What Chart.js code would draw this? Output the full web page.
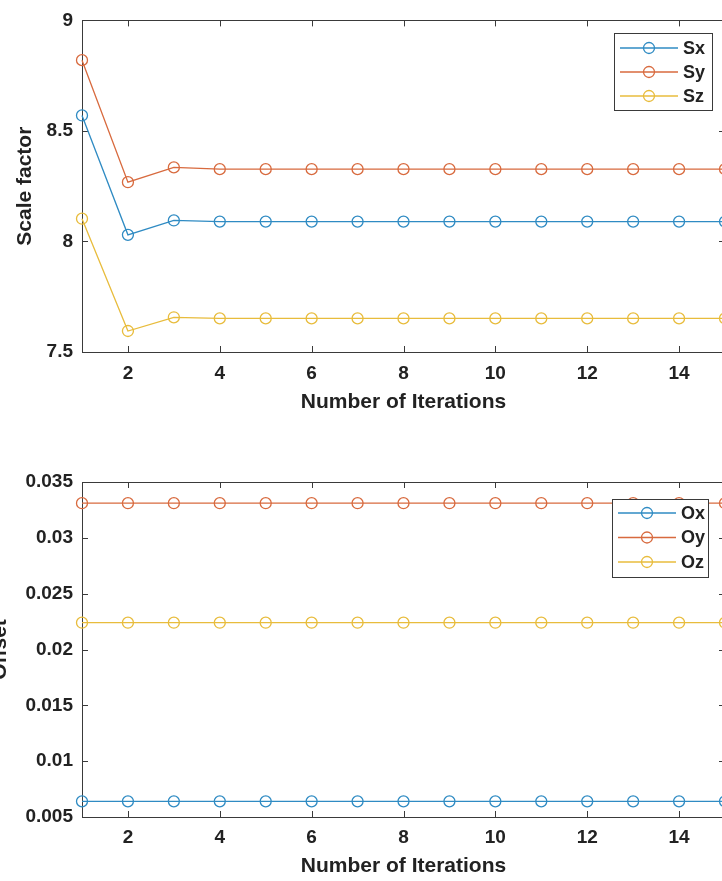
<!DOCTYPE html>
<html>
<head>
<meta charset="utf-8">
<script src="https://cdn.jsdelivr.net/npm/chart.js@4/dist/chart.umd.min.js"></script>
<style>
  html, body { margin: 0; padding: 0; background: #fff; overflow: hidden; width: 722px; height: 881px; }
  canvas { display: block; }
</style>
</head>
<body>
<canvas id="scaleChart" width="740" height="440"></canvas>
<canvas id="offsetChart" width="740" height="441"></canvas>
<script>
// Iteration index shared by both panels
const iterations = [1, 2, 3, 4, 5, 6, 7, 8, 9, 10, 11, 12, 13, 14, 15];
const xTicks = [2, 4, 6, 8, 10, 12, 14];

// Scale factor estimates per iteration
const sx = [8.57, 8.03, 8.095, 8.09, 8.09, 8.09, 8.09, 8.09, 8.09, 8.09, 8.09, 8.09, 8.09, 8.09, 8.09];
const sy = [8.82, 8.268, 8.335, 8.327, 8.327, 8.327, 8.327, 8.327, 8.327, 8.327, 8.327, 8.327, 8.327, 8.327, 8.327];
const sz = [8.103, 7.595, 7.657, 7.652, 7.652, 7.652, 7.652, 7.652, 7.652, 7.652, 7.652, 7.652, 7.652, 7.652, 7.652];
const scaleTicks = [7.5, 8, 8.5, 9];

// Offset estimates per iteration
const ox = [0.0064, 0.0064, 0.0064, 0.0064, 0.0064, 0.0064, 0.0064, 0.0064, 0.0064, 0.0064, 0.0064, 0.0064, 0.0064, 0.0064, 0.0064];
const oy = [0.0331, 0.0331, 0.0331, 0.0331, 0.0331, 0.0331, 0.0331, 0.0331, 0.0331, 0.0331, 0.0331, 0.0331, 0.0331, 0.0331, 0.0331];
const oz = [0.0224, 0.0224, 0.0224, 0.0224, 0.0224, 0.0224, 0.0224, 0.0224, 0.0224, 0.0224, 0.0224, 0.0224, 0.0224, 0.0224, 0.0224];
const offsetTicks = [0.005, 0.01, 0.015, 0.02, 0.025, 0.03, 0.035];

const BLUE = '#2f8bc3';
const ORANGE = '#d86a3e';
const YELLOW = '#e8bc3c';
const AXIS = '#3a3a3a';
const TEXT = '#222';
const FONT = '"Liberation Sans", Arial, Helvetica, sans-serif';

Chart.defaults.font.family = FONT;
Chart.defaults.color = TEXT;

// Boxed axes with inward tick marks on all four sides
const boxAxes = {
  id: 'boxAxes',
  beforeDatasetsDraw(chart) {
    const { ctx, chartArea: a, scales } = chart;
    const len = 6;
    ctx.save();
    ctx.strokeStyle = AXIS;
    ctx.lineWidth = 1;
    ctx.beginPath();
    ctx.rect(Math.round(a.left) + 0.5, Math.round(a.top) + 0.5, Math.round(a.right - a.left), Math.round(a.bottom - a.top));
    scales.x.ticks.forEach(t => {
      const px = Math.round(scales.x.getPixelForValue(t.value)) + 0.5;
      ctx.moveTo(px, a.bottom); ctx.lineTo(px, a.bottom - len);
      ctx.moveTo(px, a.top); ctx.lineTo(px, a.top + len);
    });
    scales.y.ticks.forEach(t => {
      const py = Math.round(scales.y.getPixelForValue(t.value)) + 0.5;
      ctx.moveTo(a.left, py); ctx.lineTo(a.left + len, py);
      ctx.moveTo(a.right, py); ctx.lineTo(a.right - len, py);
    });
    ctx.stroke();
    ctx.restore();
  }
};

// Legend box drawn inside the plot area
const boxLegend = {
  id: 'boxLegend',
  afterDraw(chart, args, o) {
    const ctx = chart.ctx;
    ctx.save();
    ctx.fillStyle = '#fff';
    ctx.fillRect(o.x, o.y, o.w, o.h);
    ctx.strokeStyle = AXIS;
    ctx.lineWidth = 1;
    ctx.strokeRect(o.x + 0.5, o.y + 0.5, o.w, o.h);
    chart.data.datasets.forEach((ds, i) => {
      const cy = o.y + o.first + i * o.row;
      const x0 = o.x + 6, x1 = x0 + o.lineLen;
      ctx.strokeStyle = ds.borderColor;
      ctx.lineWidth = 1.3;
      ctx.beginPath();
      ctx.moveTo(x0, cy); ctx.lineTo(x1, cy);
      ctx.stroke();
      ctx.beginPath();
      ctx.arc((x0 + x1) / 2, cy, 5.5, 0, Math.PI * 2);
      ctx.stroke();
      ctx.fillStyle = TEXT;
      ctx.font = 'bold 18px ' + FONT;
      ctx.textBaseline = 'middle';
      ctx.textAlign = 'left';
      ctx.fillText(ds.label, x1 + 5, cy + 1);
    });
    ctx.restore();
  }
};

function series(label, values, color) {
  return {
    label,
    data: iterations.map((it, i) => ({ x: it, y: values[i] })),
    borderColor: color,
    backgroundColor: 'transparent',
    pointBackgroundColor: 'transparent',
    pointBorderColor: color,
    pointRadius: 5.5,
    pointBorderWidth: 1.3,
    borderWidth: 1.3,
    tension: 0,
    clip: false
  };
}

function buildChart(id, datasets, yTicks, yMin, yMax, yTitle, layout) {
  return new Chart(document.getElementById(id), {
    type: 'line',
    data: { datasets },
    options: {
      responsive: false,
      animation: false,
      devicePixelRatio: 1,
      layout: { padding: { top: layout.top, right: 15, bottom: 0, left: 0 } },
      plugins: {
        legend: { display: false },
        tooltip: { enabled: false },
        boxLegend: layout.legend
      },
      scales: {
        x: {
          type: 'linear',
          min: 1,
          max: 15,
          grid: { display: false, drawTicks: false },
          border: { display: false },
          afterBuildTicks: s => { s.ticks = xTicks.map(v => ({ value: v })); },
          afterFit: s => { s.height = layout.xHeight; },
          ticks: {
            padding: layout.xTickPad,
            color: TEXT,
            font: { size: 19, weight: 'bold' },
            maxRotation: 0,
            callback: v => String(v)
          },
          title: {
            display: true,
            text: 'Number of Iterations',
            color: TEXT,
            font: { size: 21, weight: 'bold' },
            padding: { top: 0, bottom: layout.xTitlePad }
          }
        },
        y: {
          type: 'linear',
          min: yMin,
          max: yMax,
          grid: { display: false, drawTicks: false },
          border: { display: false },
          afterBuildTicks: s => { s.ticks = yTicks.map(v => ({ value: v })); },
          afterFit: s => { s.width = 82; },
          ticks: {
            padding: 9,
            color: TEXT,
            font: { size: 19, weight: 'bold' },
            callback: v => String(+v.toFixed(4))
          },
          title: {
            display: true,
            text: yTitle,
            color: TEXT,
            font: { size: 21, weight: 'bold' },
            padding: { top: layout.yTitlePad, bottom: 0 }
          }
        }
      }
    },
    plugins: [boxAxes, boxLegend]
  });
}

buildChart('scaleChart',
  [series('Sx', sx, BLUE), series('Sy', sy, ORANGE), series('Sz', sz, YELLOW)],
  scaleTicks, 7.5, 9, 'Scale factor',
  {
    top: 16, xHeight: 88, xTickPad: 10, xTitlePad: 25, yTitlePad: 13,
    legend: { x: 614, y: 33, w: 98, h: 77, first: 15, row: 24, lineLen: 58 }
  });

buildChart('offsetChart',
  [series('Ox', ox, BLUE), series('Oy', oy, ORANGE), series('Oz', oz, YELLOW)],
  offsetTicks, 0.005, 0.035, 'Offset',
  {
    top: 42, xHeight: 64, xTickPad: 9, xTitlePad: 2, yTitlePad: -12,
    legend: { x: 612, y: 59, w: 96, h: 78, first: 14, row: 24.5, lineLen: 58 }
  });
</script>
</body>
</html>
